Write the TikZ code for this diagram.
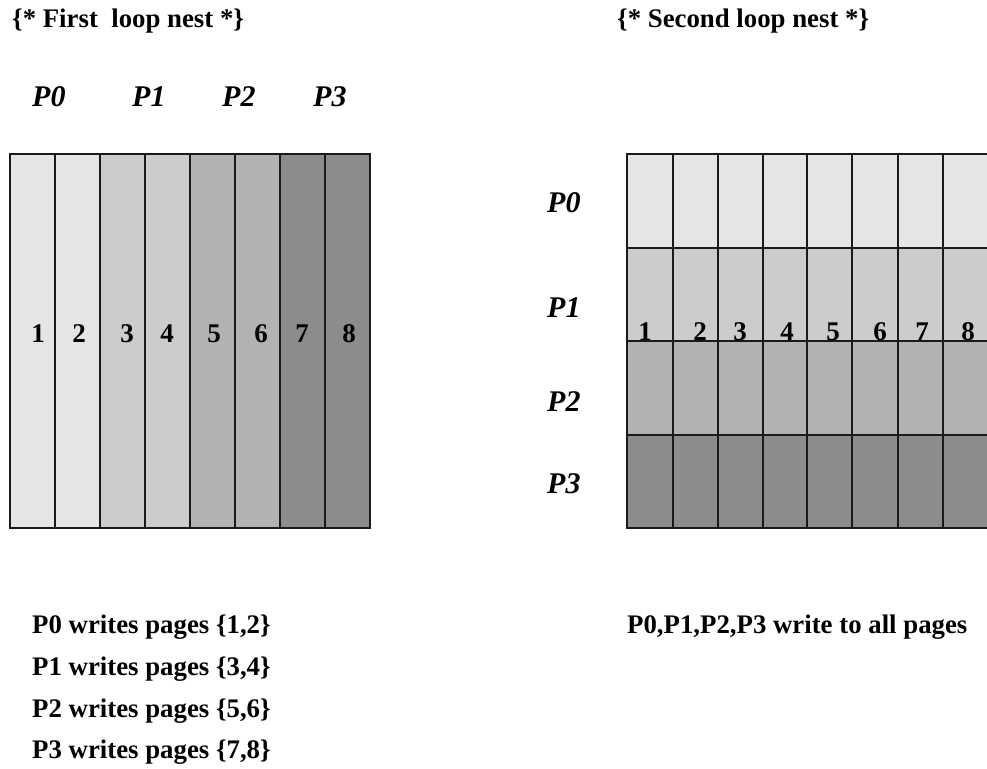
\documentclass[tikz,border=0pt]{standalone}
\usepackage{fontspec}
\setmainfont{Liberation Serif}
\definecolor{gA}{HTML}{E5E5E5}
\definecolor{gB}{HTML}{CCCCCC}
\definecolor{gC}{HTML}{B2B2B2}
\definecolor{gD}{HTML}{8C8C8C}
\definecolor{edge}{HTML}{1A1A1A}
\begin{document}
\begin{tikzpicture}[x=1pt,y=-1pt,
  cellline/.style={draw=edge,line width=1.8pt},
  txt/.style={inner sep=0pt,anchor=base west,font=\fontsize{26.8}{31}\selectfont\bfseries},
  plab/.style={inner sep=0pt,anchor=base west,font=\fontsize{30}{35}\selectfont\bfseries\itshape},
  num/.style={inner sep=0pt,anchor=base,font=\fontsize{27}{31}\selectfont\bfseries}]
\useasboundingbox (0,0) rectangle (987,768);
\fill[white] (0,0) rectangle (987,768);
% titles
\node[txt] (t1) at (12,28) {\{* First\ \ loop nest *\}};
\node[txt] (t2) at (617,28) {\{* Second loop nest *\}};
% left P labels
\node[plab] (lp0) at (32,106) {P0};
\node[plab] (lp1) at (132,106) {P1};
\node[plab] (lp2) at (222,106) {P2};
\node[plab] (lp3) at (313,106) {P3};
% left grid
\foreach \i/\c in {0/gA,1/gA,2/gB,3/gB,4/gC,5/gC,6/gD,7/gD}{
  \filldraw[fill=\c,cellline] ({10+45*\i},154) rectangle ({55+45*\i},528);
}
\foreach \n/\x in {1/38,2/79,3/127,4/167,5/214,6/261,7/302,8/349}{
  \node[num] (l\n) at (\x,342) {\n};
}
% right P labels
\node[plab] (rp0) at (547,212) {P0};
\node[plab] (rp1) at (547,317) {P1};
\node[plab] (rp2) at (547,411) {P2};
\node[plab] (rp3) at (547,493) {P3};
% right grid
\foreach \r/\c/\ya/\yb in {0/gA/154/248,1/gB/248/341,2/gC/341/435,3/gD/435/528}{
  \foreach \xa/\xb in {627/673,673/718,718/763,763/807,807/852,852/898,898/943,943/989}{
    \filldraw[fill=\c,cellline] (\xa,\ya) rectangle (\xb,\yb);
  }
}
\foreach \n/\x in {1/645,2/700,3/740,4/787,5/833,6/880,7/922,8/968}{
  \node[num] (r\n) at (\x,340) {\n};
}
% bottom texts
\node[txt] (b0) at (32,633) {P0 writes pages \{1,2\}};
\node[txt] (b1) at (32,675) {P1 writes pages \{3,4\}};
\node[txt] (b2) at (32,717) {P2 writes pages \{5,6\}};
\node[txt] (b3) at (32,758) {P3 writes pages \{7,8\}};
\node[txt] (ball) at (627,633) {P0,P1,P2,P3 write to all pages};
\end{tikzpicture}
\end{document}
